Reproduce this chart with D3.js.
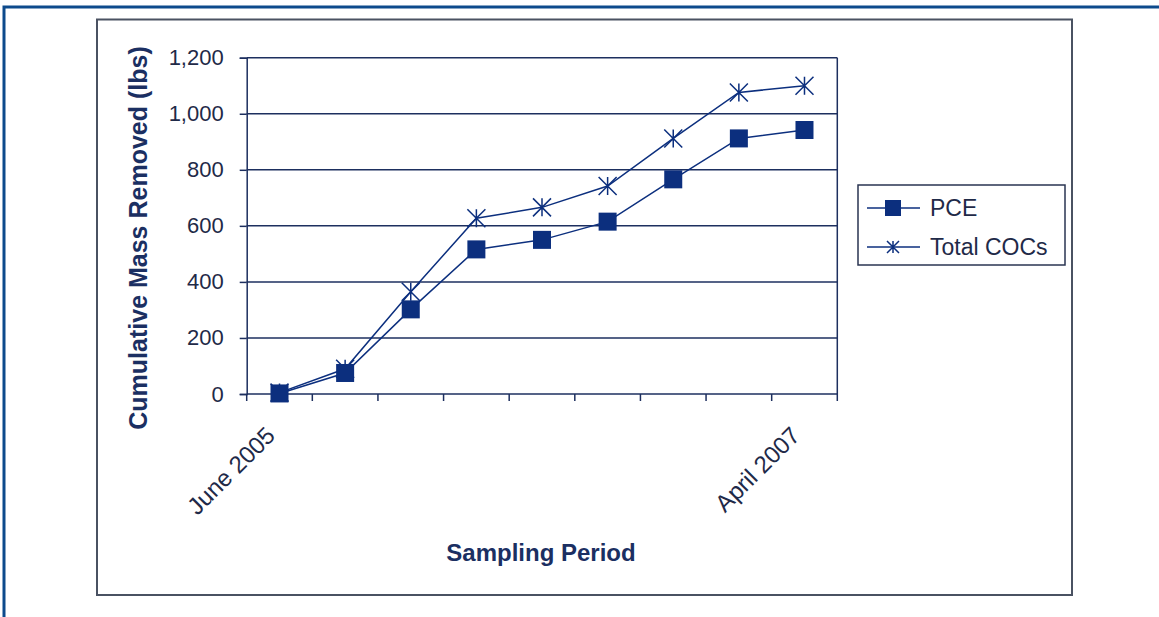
<!DOCTYPE html>
<html>
<head>
<meta charset="utf-8">
<script src="https://cdn.jsdelivr.net/npm/d3@7"></script>
<style>
  body { margin: 0; background: #fff; }
  svg { display: block; font-family: "Liberation Sans", Arial, sans-serif; }
</style>
</head>
<body>
<svg id="chart" width="1159" height="617"></svg>
<script>
// periods sampled, only first and last are labelled on the chart
const periods = ["June 2005", "", "", "", "", "", "", "", "April 2007"];
const pce = [2, 75, 302, 516, 550, 615, 766, 912, 942];
const totalCOCs = [5, 90, 365, 627, 666, 742, 912, 1076, 1100];
const yTicks = [0, 200, 400, 600, 800, 1000, 1200];

const navy = "#0c2f7e";
const grid = "#1d2f5f";

const svg = d3.select("#chart");

// outer frame (top and left only)
svg.append("path")
  .attr("d", "M 4 617 L 4 7 L 1159 7")
  .attr("fill", "none")
  .attr("stroke", "#0d4a8c")
  .attr("stroke-width", 3);

// chart box
svg.append("rect")
  .attr("x", 97).attr("y", 19.5)
  .attr("width", 975).attr("height", 575.5)
  .attr("fill", "#fff")
  .attr("stroke", "#4a5262")
  .attr("stroke-width", 2);

const plot = { left: 246.7, right: 837.3, top: 57.7, bottom: 394 };

const x = d3.scaleBand()
  .domain(d3.range(periods.length))
  .range([plot.left, plot.right]);
const y = d3.scaleLinear()
  .domain([0, 1200])
  .range([plot.bottom, plot.top]);

// gridlines + y axis
const yAxis = d3.axisLeft(y)
  .tickValues(yTicks)
  .tickSize(7)
  .tickPadding(16)
  .tickFormat(d3.format(","));
const gy = svg.append("g")
  .attr("transform", `translate(${plot.left},0)`)
  .call(yAxis);
gy.select(".domain").attr("stroke", grid).attr("stroke-width", 1.5);
gy.selectAll(".tick line").attr("stroke", grid).attr("stroke-width", 1.5);
gy.selectAll(".tick text")
  .attr("fill", "#1f2a48")
  .style("font-size", "22px");

svg.append("g")
  .selectAll("line")
  .data(yTicks.filter(d => d > 0))
  .join("line")
  .attr("x1", plot.left).attr("x2", plot.right)
  .attr("y1", d => y(d)).attr("y2", d => y(d))
  .attr("stroke", grid)
  .attr("stroke-width", 1.5);

// right border of plot area
svg.append("line")
  .attr("x1", plot.right).attr("x2", plot.right)
  .attr("y1", plot.top).attr("y2", plot.bottom)
  .attr("stroke", grid).attr("stroke-width", 1.5);

// x axis
const bw = x.bandwidth();
const gx = svg.append("g");
gx.append("line")
  .attr("x1", plot.left).attr("x2", plot.right)
  .attr("y1", plot.bottom).attr("y2", plot.bottom)
  .attr("stroke", grid).attr("stroke-width", 1.5);
gx.selectAll("line.tk")
  .data(d3.range(periods.length + 1))
  .join("line")
  .attr("class", "tk")
  .attr("x1", i => plot.left + i * bw).attr("x2", i => plot.left + i * bw)
  .attr("y1", plot.bottom).attr("y2", plot.bottom + 7)
  .attr("stroke", grid).attr("stroke-width", 1.5);
gx.selectAll("text")
  .data(periods)
  .join("text")
  .attr("transform", (d, i) => `translate(${x(i) + bw / 2 - 3},${plot.bottom + 43}) rotate(-45)`)
  .attr("text-anchor", "end")
  .attr("fill", "#1f2a48")
  .style("font-size", "24px")
  .text(d => d);

// axis titles
svg.append("text")
  .attr("x", 541).attr("y", 561)
  .attr("text-anchor", "middle")
  .attr("fill", "#1b2f62")
  .style("font-size", "24px")
  .style("font-weight", "bold")
  .text("Sampling Period");

svg.append("text")
  .attr("transform", "translate(147,238) rotate(-90)")
  .attr("text-anchor", "middle")
  .attr("fill", "#1b2f62")
  .style("font-size", "25px")
  .style("font-weight", "bold")
  .text("Cumulative Mass Removed (lbs)");

// series
const cx = i => x(i) + bw / 2;
const line = d3.line().x((d, i) => cx(i)).y(d => y(d));

function star(g, px, py, r) {
  g.append("path")
    .attr("d", `M ${px - r} ${py - r} L ${px + r} ${py + r} M ${px - r} ${py + r} L ${px + r} ${py - r} M ${px} ${py - r} L ${px} ${py + r}`)
    .attr("stroke", navy)
    .attr("stroke-width", 1.5)
    .attr("fill", "none");
}

const gTot = svg.append("g");
gTot.append("path")
  .datum(totalCOCs)
  .attr("d", line)
  .attr("fill", "none")
  .attr("stroke", navy)
  .attr("stroke-width", 1.5);
totalCOCs.forEach((v, i) => star(gTot, cx(i), y(v), 9));

const gPce = svg.append("g");
gPce.append("path")
  .datum(pce)
  .attr("d", line)
  .attr("fill", "none")
  .attr("stroke", navy)
  .attr("stroke-width", 1.5);
gPce.selectAll("rect")
  .data(pce)
  .join("rect")
  .attr("x", (d, i) => cx(i) - 9)
  .attr("y", d => y(d) - 9)
  .attr("width", 18).attr("height", 18)
  .attr("fill", navy);

// legend
const lg = svg.append("g");
lg.append("rect")
  .attr("x", 858).attr("y", 185)
  .attr("width", 207).attr("height", 80)
  .attr("fill", "#fff")
  .attr("stroke", "#2a3552")
  .attr("stroke-width", 1.5);
const items = [
  { name: "PCE", kind: "square", yy: 208 },
  { name: "Total COCs", kind: "star", yy: 247 }
];
items.forEach(it => {
  lg.append("line")
    .attr("x1", 867).attr("x2", 920)
    .attr("y1", it.yy).attr("y2", it.yy)
    .attr("stroke", navy).attr("stroke-width", 1.5);
  if (it.kind === "square") {
    lg.append("rect")
      .attr("x", 885).attr("y", it.yy - 8)
      .attr("width", 16).attr("height", 16)
      .attr("fill", navy);
  } else {
    star(lg, 893, it.yy, 6);
  }
  lg.append("text")
    .attr("x", 930).attr("y", it.yy)
    .attr("dy", "0.36em")
    .attr("fill", "#1f2a48")
    .style("font-size", "23px")
    .text(it.name);
});
</script>
</body>
</html>
